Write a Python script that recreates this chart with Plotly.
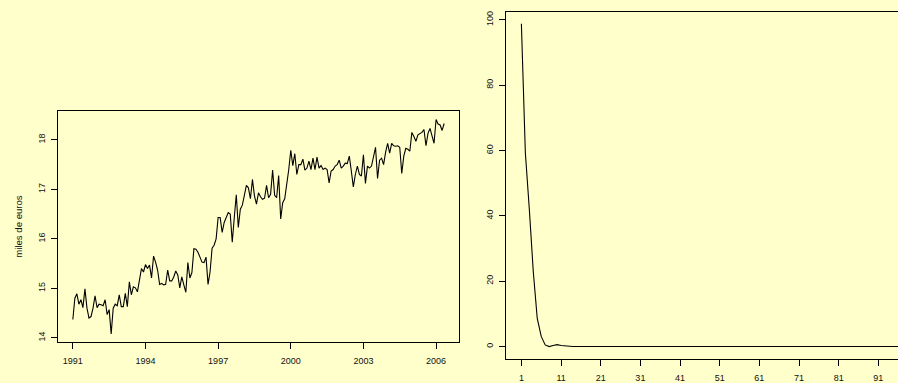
import plotly.graph_objects as go

# ---------------- data ----------------
start_year = 1991
# monthly values (miles de euros), Jan 1991 .. May 2006
serie = [
    14.37, 14.80, 14.89, 14.68, 14.77, 14.61, 14.99, 14.60, 14.40, 14.43,
    14.60, 14.85, 14.61, 14.68, 14.67, 14.65, 14.77, 14.47, 14.57, 14.08,
    14.60, 14.68, 14.65, 14.87, 14.63, 14.63, 14.90, 14.63, 15.13, 14.87,
    15.03, 15.01, 14.93, 15.13, 15.40, 15.33, 15.48, 15.40, 15.47, 15.21,
    15.65, 15.53, 15.37, 15.08, 15.10, 15.07, 15.08, 15.37, 15.15, 15.15,
    15.23, 15.35, 15.27, 15.01, 15.23, 15.07, 14.92, 15.52, 15.21, 15.32,
    15.80, 15.79, 15.73, 15.63, 15.53, 15.52, 15.63, 15.08, 15.33, 15.81,
    15.87, 16.00, 16.43, 16.43, 16.13, 16.33, 16.43, 16.53, 16.50, 15.93,
    16.43, 16.89,
    16.23, 16.60, 16.68, 16.87, 17.08, 17.03, 16.81, 17.20, 16.87, 16.70,
    16.93, 16.85, 16.80, 16.82, 17.08, 16.83, 16.90, 17.39, 16.88, 16.83,
    17.28, 16.40, 16.73, 16.81, 17.10, 17.40, 17.79,
    17.48, 17.72, 17.30, 17.50, 17.50, 17.61, 17.39, 17.43, 17.57, 17.40,
    17.63, 17.40, 17.65, 17.43, 17.48, 17.40, 17.43, 17.40,
    17.13, 17.37, 17.40, 17.47, 17.50, 17.59, 17.43, 17.47, 17.53, 17.52,
    17.67, 17.37, 17.05, 17.30, 17.47, 17.30, 17.27, 17.70, 17.12, 17.47,
    17.43, 17.47, 17.65, 17.85, 17.22, 17.59, 17.63, 17.50, 17.75, 17.93,
    17.73, 17.93, 17.88, 17.87, 17.88, 17.85, 17.32, 17.67, 17.83, 17.81,
    17.77, 18.15, 18.07, 17.97, 18.10, 18.13, 18.15, 18.21, 17.88, 18.13,
    18.23, 18.08, 17.93, 18.41, 18.32, 18.30, 18.19, 18.33,
]
x_ticks_left = [1991, 1994, 1997, 2000, 2003, 2006]
y_ticks_left = [14, 15, 16, 17, 18]

# right panel series (index 1..98)
curva = [
    98.8, 59.3, 42.0, 22.9, 8.6, 3.1, 0.5, 0.0, 0.3, 0.6,
    0.3, 0.15, 0.05, 0.02, 0.01, 0.0, 0.0, 0.0, 0.0, 0.0,
    0.0, 0.0, 0.0, 0.0, 0.0, 0.0, 0.0, 0.0, 0.0, 0.0,
    0.0, 0.0, 0.0, 0.0, 0.0, 0.0, 0.0, 0.0, 0.0, 0.0,
    0.0, 0.0, 0.0, 0.0, 0.0, 0.0, 0.0, 0.0, 0.0, 0.0,
    0.0, 0.0, 0.0, 0.0, 0.0, 0.0, 0.0, 0.0, 0.0, 0.0,
    0.0, 0.0, 0.0, 0.0, 0.0, 0.0, 0.0, 0.0, 0.0, 0.0,
    0.0, 0.0, 0.0, 0.0, 0.0, 0.0, 0.0, 0.0, 0.0, 0.0,
    0.0, 0.0, 0.0, 0.0, 0.0, 0.0, 0.0, 0.0, 0.0, 0.0,
    0.0, 0.0, 0.0, 0.0, 0.0, 0.0, 0.0, 0.0,
]
x_ticks_right = [1, 11, 21, 31, 41, 51, 61, 71, 81, 91]
y_ticks_right = [0, 20, 40, 60, 80, 100]

y_label_left = "miles de euros"

# ---------------- figure ----------------
W, H = 898, 383
BG = "#FFFFCC"
FAMILY = "Liberation Sans, Arial, Helvetica, sans-serif"
FONT = dict(family=FAMILY, size=9, color="#111111")
LABEL_FONT = dict(family=FAMILY, size=9.6, color="#111111")

t = [start_year + i / 12 for i in range(len(serie))]
lags = list(range(1, len(curva) + 1))

fig = go.Figure()
fig.add_trace(go.Scatter(x=t, y=serie, mode="lines",
                         line=dict(color="#000000", width=1.1),
                         xaxis="x", yaxis="y", showlegend=False, hoverinfo="skip"))
fig.add_trace(go.Scatter(x=lags, y=curva, mode="lines",
                         line=dict(color="#000000", width=1.1),
                         xaxis="x2", yaxis="y2", showlegend=False, hoverinfo="skip"))

def px_x(p):
    return p / W

def px_y(p):
    return 1 - p / H

axis_common = dict(showgrid=False, zeroline=False, ticks="outside", ticklen=6,
                   tickwidth=1, tickcolor="#000000", linecolor="#000000", linewidth=1,
                   tickfont=FONT, showline=True)

fig.update_layout(
    width=W, height=H,
    margin=dict(l=0, r=0, t=0, b=0),
    paper_bgcolor=BG, plot_bgcolor=BG,
    font=FONT,
    xaxis=dict(domain=[px_x(58), px_x(459)], range=[1990.387, 2006.947],
               tickmode="array", tickvals=x_ticks_left,
               ticktext=[str(v) for v in x_ticks_left],
               mirror=True, anchor="y", ticklabelstandoff=4, **axis_common),
    yaxis=dict(domain=[px_y(344), px_y(111)], range=[13.91, 18.58],
               tickmode="array", tickvals=y_ticks_left,
               ticktext=[str(v) for v in y_ticks_left], tickangle=-90,
               mirror=True, anchor="x", ticklabelstandoff=2, **axis_common),
    xaxis2=dict(domain=[px_x(506), 1.0], range=[-2.88, 95.96],
                tickmode="array", tickvals=x_ticks_right,
                ticktext=[str(v) for v in x_ticks_right],
                mirror=True, anchor="y2", ticklabelstandoff=4, **axis_common),
    yaxis2=dict(domain=[px_y(361), px_y(10.7)], range=[-3.86, 102.5],
                tickmode="array", tickvals=y_ticks_right,
                ticktext=[str(v) for v in y_ticks_right], tickangle=-90,
                mirror=False, anchor="x2", ticklabelstandoff=2, **axis_common),
    annotations=[dict(text=y_label_left, x=px_x(19), y=px_y(227.5),
                      xref="paper", yref="paper", showarrow=False,
                      textangle=-90, font=LABEL_FONT, xanchor="center", yanchor="middle")],
)

fig.write_html("out.html", config={"displayModeBar": False})
